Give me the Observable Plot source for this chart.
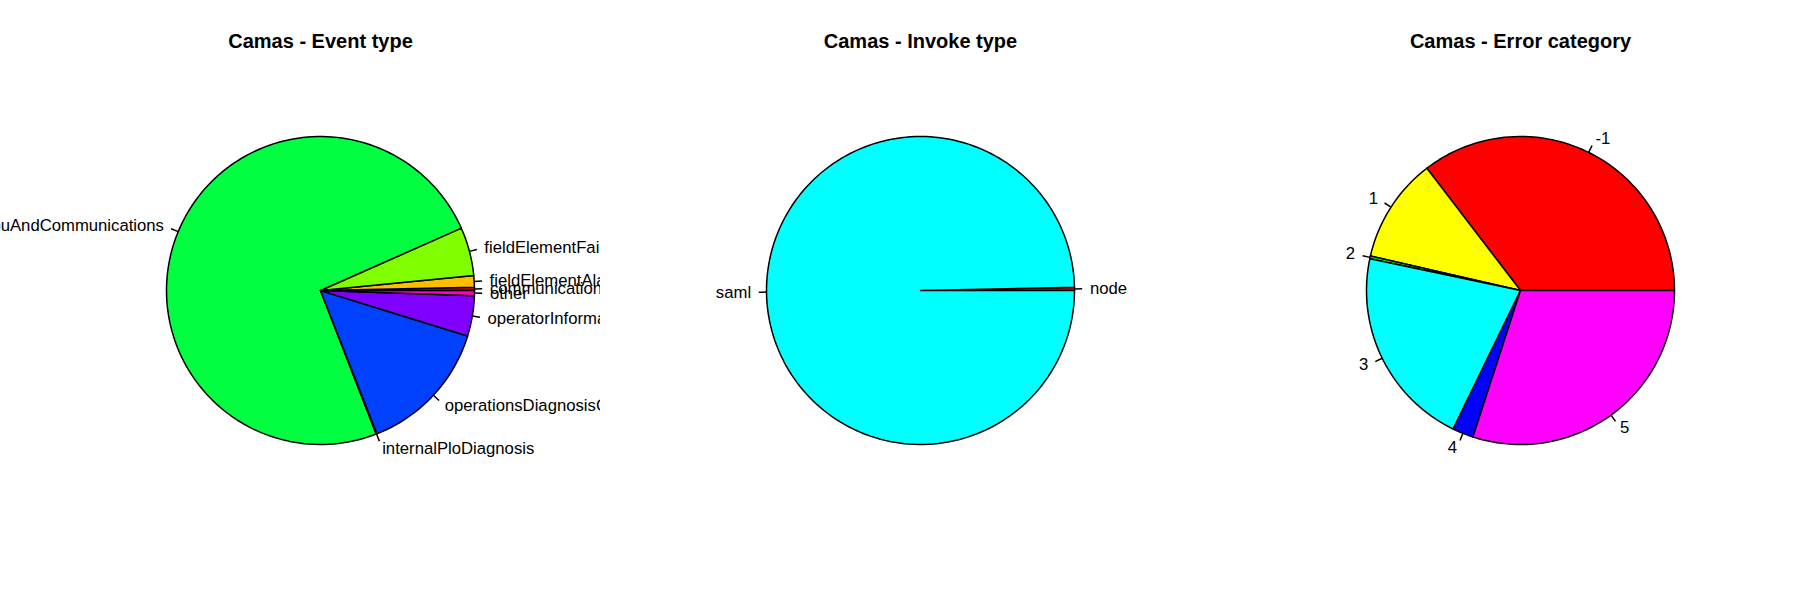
<!DOCTYPE html>
<html>
<head>
<meta charset="utf-8">
<script src="https://cdn.jsdelivr.net/npm/d3@7"></script>
<script src="https://cdn.jsdelivr.net/npm/@observablehq/plot@0.6"></script>
<style>
  body { margin: 0; background: #fff; }
  #row { display: flex; width: 1800px; height: 600px; }
  #row svg { overflow: hidden; flex: none; }
</style>
</head>
<body>
<div id="row"></div>
<script>
// Camas - Event type
const eventTypes = ["communicationFailure", "fieldElementAlarm", "fieldElementFailure", "cpuAndCommunications",
  "internalPloDiagnosis", "operationsDiagnosisCommunication", "operatorInformation", "other"];
const eventCounts = [33, 122, 508, 7426, 8, 1425, 425, 53];

// Camas - Invoke type
const invokeTypes = ["node", "saml"];
const invokeCounts = [3, 897];

// Camas - Error category
const errorCategories = ["-1", "1", "2", "3", "4", "5"];
const errorCounts = [354, 110, 3, 211, 22, 300];

// R's rainbow(n): hsv(i/n, 1, 1)
const rainbow = n => d3.range(n).map(i => d3.hsl(360 * i / n, 1, 0.5).formatHex());

// pie pieces the way R's pie() builds them: counterclockwise from 3 o'clock
function pieParts(labels, counts) {
  const total = d3.sum(counts);
  const outline = [], ticks = [], labelsAt = [];
  let acc = 0;
  labels.forEach((label, i) => {
    const a0 = 2 * Math.PI * acc / total;
    acc += counts[i];
    const a1 = 2 * Math.PI * acc / total;
    const n = Math.max(2, Math.floor(200 * counts[i] / total));
    outline.push({label, x: 0, y: 0});
    for (let k = 0; k < n; k++) {
      const t = a0 + (a1 - a0) * k / (n - 1);
      outline.push({label, x: Math.cos(t), y: Math.sin(t)});
    }
    const m = (a0 + a1) / 2;
    ticks.push({label, x1: Math.cos(m), y1: Math.sin(m), x2: 1.05 * Math.cos(m), y2: 1.05 * Math.sin(m)});
    labelsAt.push({label, x: 1.1 * Math.cos(m), y: 1.1 * Math.sin(m), left: Math.cos(m) < 0});
  });
  return {outline, ticks, labelsAt};
}

function piePanel(title, labels, counts) {
  const {outline, ticks, labelsAt} = pieParts(labels, counts);
  const font = {fontFamily: "Liberation Sans, Arial, sans-serif", fontSize: 16.7, fill: "black"};
  return Plot.plot({
    width: 600,
    height: 600,
    margin: 0,
    x: {domain: [-320 / 154, 280 / 154], axis: null},
    y: {domain: [-310 / 154, 290 / 154], axis: null},
    color: {domain: labels, range: rainbow(labels.length)},
    style: {background: "white"},
    marks: [
      Plot.line(outline, {x: "x", y: "y", z: "label", fill: "label", stroke: "black", strokeWidth: 1.5, curve: "linear-closed"}),
      Plot.link(ticks, {x1: "x1", y1: "y1", x2: "x2", y2: "y2", stroke: "black", strokeWidth: 1.5}),
      Plot.text(labelsAt.filter(d => !d.left), {x: "x", y: "y", text: "label", textAnchor: "start", ...font}),
      Plot.text(labelsAt.filter(d => d.left), {x: "x", y: "y", text: "label", textAnchor: "end", ...font}),
      Plot.text([title], {text: d => d, frameAnchor: "top", lineAnchor: "middle", dx: 20, dy: 41,
        fontWeight: "bold", fontSize: 20, fontFamily: "Liberation Sans, Arial, sans-serif", fill: "black"})
    ]
  });
}

const row = document.getElementById("row");
row.append(
  piePanel("Camas - Event type", eventTypes, eventCounts),
  piePanel("Camas - Invoke type", invokeTypes, invokeCounts),
  piePanel("Camas - Error category", errorCategories, errorCounts)
);
</script>
</body>
</html>
